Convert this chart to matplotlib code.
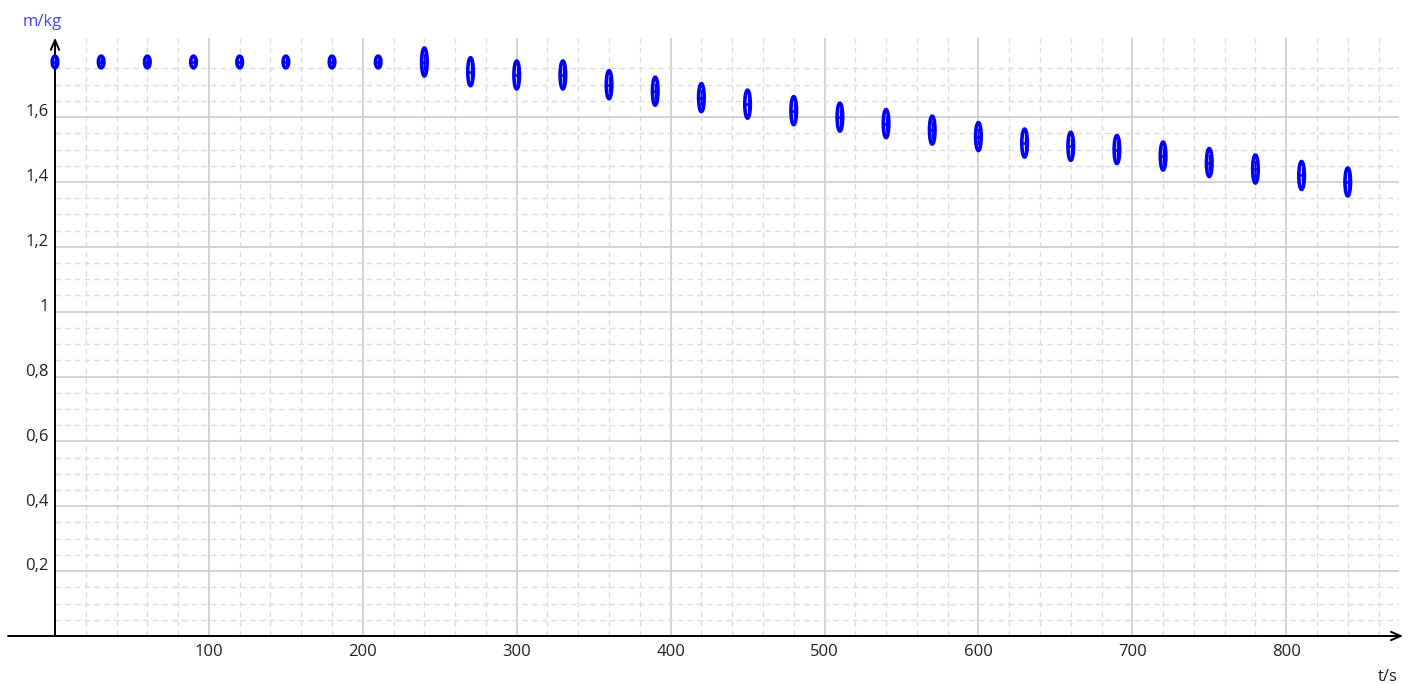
import matplotlib
matplotlib.use("Agg")
import matplotlib.pyplot as plt
from matplotlib.patches import Ellipse

plt.rcParams['font.family'] = ['Open Sans', 'DejaVu Sans']

# ---- data ----
t_values = [0, 30, 60, 90, 120, 150, 180, 210, 240, 270, 300, 330, 360, 390, 420,
            450, 480, 510, 540, 570, 600, 630, 660, 690, 720, 750, 780, 810, 840]
m_values = [1.77, 1.77, 1.77, 1.77, 1.77, 1.77, 1.77, 1.77, 1.77, 1.74, 1.73, 1.73,
            1.70, 1.68, 1.66, 1.64, 1.62, 1.60, 1.58, 1.56, 1.54, 1.52, 1.51, 1.50,
            1.48, 1.46, 1.44, 1.42, 1.40]
m_errors = [0.018] * 8 + [0.043] * 21
x_tick_values = [100, 200, 300, 400, 500, 600, 700, 800]
x_tick_labels = ["100", "200", "300", "400", "500", "600", "700", "800"]
y_tick_values = [0.2, 0.4, 0.6, 0.8, 1.0, 1.2, 1.4, 1.6]
y_tick_labels = ["0,2", "0,4", "0,6", "0,8", "1", "1,2", "1,4", "1,6"]
x_label = "t/s"
y_label = "m/kg"

W, H = 1414, 684
fig = plt.figure(figsize=(W / 100, H / 100), dpi=100)
fig.patch.set_facecolor("white")

# pixel geometry
x0_px, y0_px = 55, 636
px_per_x = 1.539
px_per_y = 324.3
xmax = 873.0
ymax = 1.845
ax = fig.add_axes([x0_px / W, (H - y0_px) / H,
                   xmax * px_per_x / W, ymax * px_per_y / H])
ax.set_xlim(0, xmax)
ax.set_ylim(0, ymax)
ax.axis("off")

major_c = "#cccccc"
minor_c = "#dcdcdc"

# vertical grid
for i in range(1, 44):
    xv = i * 20
    if xv % 100 == 0:
        ax.plot([xv, xv], [0, ymax], color=major_c, lw=1.2, zorder=1)
    else:
        ax.plot([xv, xv], [0, ymax], color=minor_c, lw=1.0, ls=(0, (4, 3)), zorder=1)
# horizontal grid
for j in range(1, 36):
    yv = j * 0.05
    if j % 4 == 0:
        ax.plot([0, xmax], [yv, yv], color=major_c, lw=1.2, zorder=1)
    else:
        ax.plot([0, xmax], [yv, yv], color=minor_c, lw=1.0, ls=(0, (4, 3)), zorder=1)

# axes with arrows
arrow_kw = dict(arrowstyle="->,head_length=0.7,head_width=0.3", color="black", lw=1.4,
                shrinkA=0, shrinkB=0)
ax.annotate("", xy=(876, 0), xytext=(-30.5, 0), xycoords="data",
            arrowprops=arrow_kw, annotation_clip=False, zorder=3)
ax.annotate("", xy=(0, 1.845), xytext=(0, 0), xycoords="data",
            arrowprops=arrow_kw, annotation_clip=False, zorder=3)

# tick labels
lab_c = "#222222"
for v, s in zip(y_tick_values, y_tick_labels):
    ax.text(-4.0, v + 0.002, s, ha="right", va="baseline", fontsize=12, color=lab_c,
            clip_on=False)
for v, s in zip(x_tick_values, x_tick_labels):
    ax.text(v, -0.05, s, ha="center", va="center", fontsize=12, color=lab_c,
            clip_on=False)
ax.text(866, -0.126, x_label, ha="center", va="center", fontsize=12, color=lab_c,
        clip_on=False)
ax.text(-8.4, 1.893, y_label, ha="center", va="center", fontsize=12, color="#4646ff",
        clip_on=False)

# data markers: elliptical error marks
blue = "#0000ff"
for t, m, e in zip(t_values, m_values, m_errors):
    ell = Ellipse((t, m), width=3.6, height=2 * e, facecolor="white",
                  edgecolor=blue, lw=2.6, zorder=5, clip_on=False)
    ax.add_patch(ell)
    ax.plot([t - 1.8, t + 1.8], [m, m], color=blue, lw=1.8, zorder=6,
            solid_capstyle="butt", clip_on=False)
    ax.plot([t, t], [m - e * 0.55, m + e * 0.55], color=blue, lw=1.0, zorder=6,
            clip_on=False)

fig.savefig("out.png", dpi=100, facecolor="white")
